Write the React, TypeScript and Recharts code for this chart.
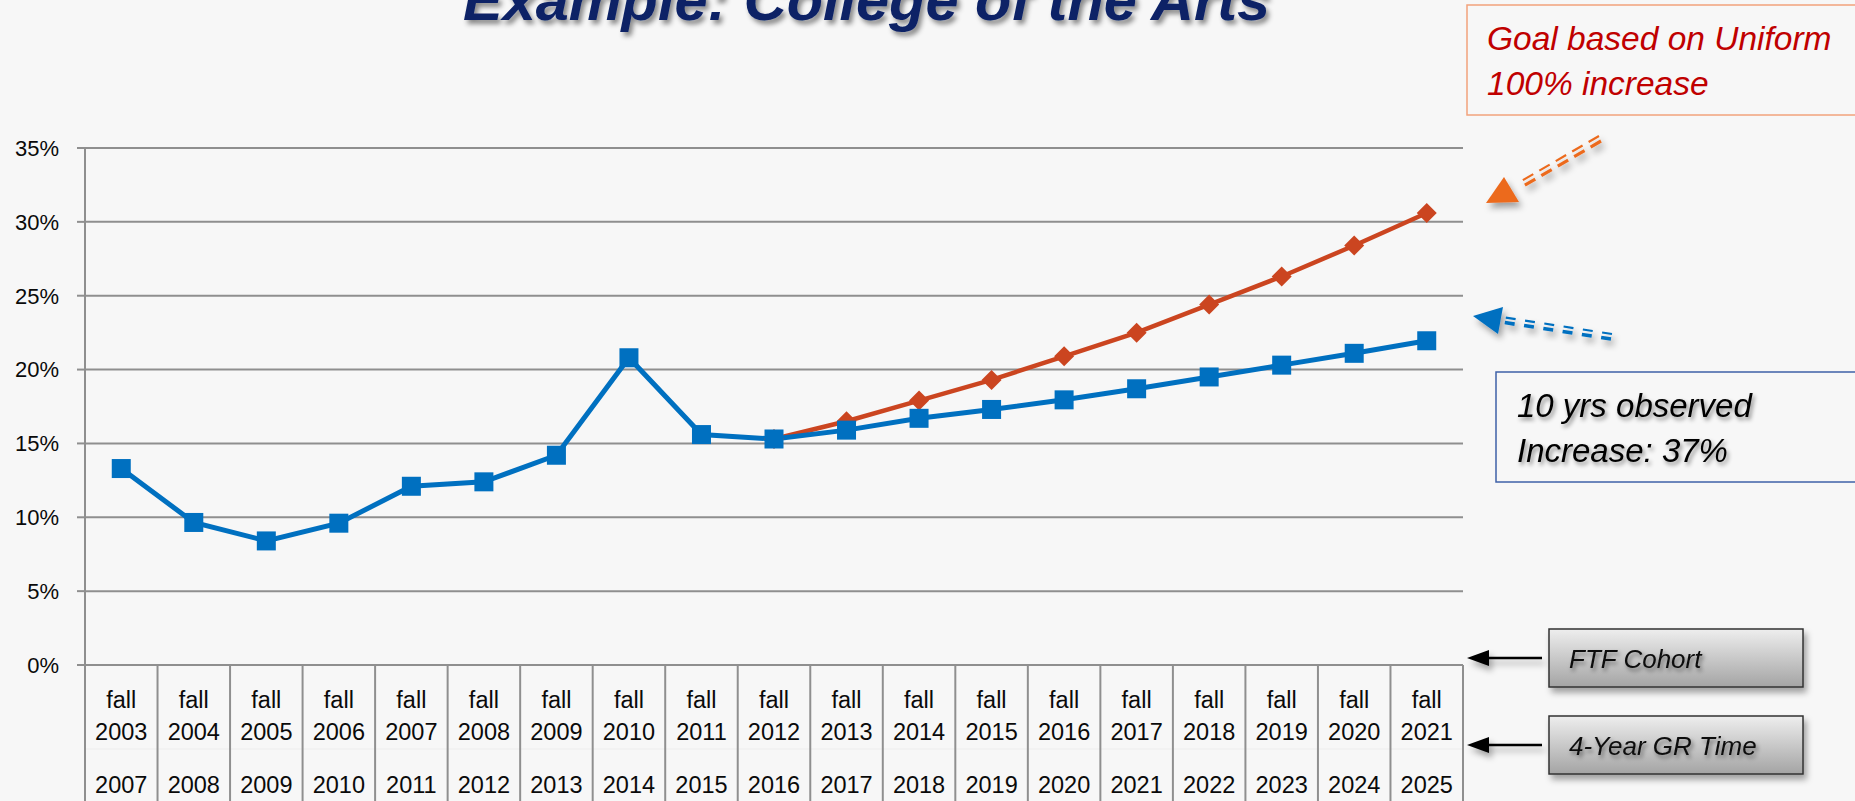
import React from 'react';
import { LineChart, Line, XAxis, YAxis, CartesianGrid } from 'recharts';

// ---- Data ----
const cohortYears = ['2003', '2004', '2005', '2006', '2007', '2008', '2009', '2010', '2011', '2012', '2013', '2014', '2015', '2016', '2017', '2018', '2019', '2020', '2021'];
const gradYears = ['2007', '2008', '2009', '2010', '2011', '2012', '2013', '2014', '2015', '2016', '2017', '2018', '2019', '2020', '2021', '2022', '2023', '2024', '2025'];
const observedRate = [13.3, 9.65, 8.4, 9.6, 12.1, 12.4, 14.2, 20.8, 15.6, 15.3, 15.9, 16.7, 17.3, 17.95, 18.7, 19.5, 20.3, 21.1, 21.95];
const goalRate: (number | null)[] = [null, null, null, null, null, null, null, null, null, 15.3, 16.5, 17.9, 19.3, 20.9, 22.5, 24.4, 26.3, 28.4, 30.6];
const yTicks = [0, 5, 10, 15, 20, 25, 30, 35];

const data = cohortYears.map((c, i) => ({
  cohort: c,
  grad: gradYears[i],
  observed: observedRate[i],
  goal: goalRate[i],
}));

// ---- Layout / style ----
const W = 1855;
const H = 801;
const PLOT_LEFT = 85;
const PLOT_RIGHT = 1463;
const PLOT_TOP = 148;
const PLOT_BOTTOM = 665;
const BAND = (PLOT_RIGHT - PLOT_LEFT) / cohortYears.length;
const GRID = '#8F8F8F';
const BG = '#F7F7F7';
const BLUE = '#0070C0';
const RED = '#CB4520';
const FONT = '"Liberation Sans", Arial, sans-serif';

const XTick = (props: any) => {
  const { x, y, payload } = props;
  const i = cohortYears.indexOf(String(payload.value));
  const half = BAND / 2;
  const last = i === cohortYears.length - 1;
  const ts = { fontFamily: FONT, fontSize: 23.5, fill: '#0A0A0A' };
  return (
    <g>
      <line x1={x - half} x2={x + half} y1={y + 84} y2={y + 84} stroke="#EDEDED" strokeWidth={1} />
      <line x1={x - half} x2={x - half} y1={y} y2={H} stroke={GRID} strokeWidth={2} />
      {last && <line x1={x + half} x2={x + half} y1={y} y2={H} stroke={GRID} strokeWidth={2} />}
      <text x={x} y={y + 43} textAnchor="middle" {...ts}>fall</text>
      <text x={x} y={y + 75} textAnchor="middle" {...ts}>{payload.value}</text>
      <text x={x} y={y + 128} textAnchor="middle" {...ts}>{gradYears[i]}</text>
    </g>
  );
};

const SquareDot = (p: any) => {
  if (p.cx == null || p.cy == null || p.value == null) return <g key={p.key} />;
  return <rect key={p.key} x={p.cx - 9.5} y={p.cy - 9.5} width={19} height={19} fill={BLUE} />;
};

const DiamondDot = (p: any) => {
  if (p.cx == null || p.cy == null || p.value == null) return <g key={p.key} />;
  const r = 10;
  const pts = `${p.cx},${p.cy - r} ${p.cx + r},${p.cy} ${p.cx},${p.cy + r} ${p.cx - r},${p.cy}`;
  return <polygon key={p.key} points={pts} fill={RED} />;
};

const Overlay = () => (
  <svg width={W} height={H} style={{ position: 'absolute', left: 0, top: 0, pointerEvents: 'none' }}>
    <defs>
      <filter id="shadow" x="-20%" y="-20%" width="150%" height="160%">
        <feDropShadow dx="3" dy="5" stdDeviation="3" floodColor="#000" floodOpacity="0.35" />
      </filter>
      <filter id="textShadow" x="-10%" y="-30%" width="130%" height="170%">
        <feDropShadow dx="2" dy="3" stdDeviation="2" floodColor="#000" floodOpacity="0.45" />
      </filter>
      <filter id="titleShadow" x="-10%" y="-30%" width="130%" height="170%">
        <feDropShadow dx="3" dy="4" stdDeviation="2.5" floodColor="#000" floodOpacity="0.45" />
      </filter>
      <linearGradient id="boxGrad" x1="0" y1="0" x2="0" y2="1">
        <stop offset="0" stopColor="#EEEEEE" />
        <stop offset="1" stopColor="#A4A4A4" />
      </linearGradient>
    </defs>

    {/* Title (its top is cut off at the page edge, as in the original slide) */}
    <text x={463} y={20} fontFamily={FONT} fontSize={58} fontWeight="bold" fontStyle="italic" fill="#0E2466"
      textLength={807} lengthAdjust="spacingAndGlyphs" filter="url(#titleShadow)">Example: College of the Arts</text>

    {/* Goal box */}
    <rect x={1467} y={5} width={420} height={110} fill={BG} stroke="#F2A37C" strokeWidth={1.5} />
    <text x={1487} y={50} fontFamily={FONT} fontSize={33.5} fontStyle="italic" fill="#C00000">Goal based on Uniform</text>
    <text x={1487} y={95} fontFamily={FONT} fontSize={33.5} fontStyle="italic" fill="#C00000">100% increase</text>

    {/* Orange dashed arrow */}
    <g filter="url(#shadow)">
      <line x1={1599} y1={136} x2={1518} y2={183} stroke="#EC6A1E" strokeWidth={2.2} strokeDasharray="12 7" />
      <line x1={1601} y1={141} x2={1520} y2={188} stroke="#EC6A1E" strokeWidth={3.2} strokeDasharray="12 7" />
      <polygon points="1486,203 1504,177 1519,202" fill="#EC6A1E" />
    </g>

    {/* Blue dashed arrow */}
    <g filter="url(#shadow)">
      <line x1={1612} y1={334} x2={1502} y2={317} stroke={BLUE} strokeWidth={2.2} strokeDasharray="10 9.5" />
      <line x1={1611} y1={339} x2={1501} y2={322} stroke={BLUE} strokeWidth={3.6} strokeDasharray="10 9.5" />
      <polygon points="1473,316 1503,307 1498,334" fill={BLUE} />
    </g>

    {/* Observed box */}
    <rect x={1496} y={372} width={420} height={110} fill={BG} stroke="#3F62A8" strokeWidth={1.5} />
    <g filter="url(#textShadow)">
      <text x={1517} y={417} fontFamily={FONT} fontSize={33} fontStyle="italic" fill="#000">10 yrs observed</text>
      <text x={1517} y={462} fontFamily={FONT} fontSize={33} fontStyle="italic" fill="#000">Increase: 37%</text>
    </g>

    {/* FTF Cohort */}
    <g filter="url(#shadow)">
      <line x1={1542} y1={658} x2={1484} y2={658} stroke="#000" strokeWidth={2.5} />
      <polygon points="1467,658 1489,650 1489,666" fill="#000" />
      <rect x={1549} y={629} width={254} height={58} fill="url(#boxGrad)" stroke="#333" strokeWidth={1.5} />
    </g>
    <text x={1569} y={668} fontFamily={FONT} fontSize={26} fontStyle="italic" fill="#111" filter="url(#textShadow)">FTF Cohort</text>

    {/* 4-Year GR Time */}
    <g filter="url(#shadow)">
      <line x1={1542} y1={745} x2={1484} y2={745} stroke="#000" strokeWidth={2.5} />
      <polygon points="1467,745 1489,737 1489,753" fill="#000" />
      <rect x={1549} y={716} width={254} height={58} fill="url(#boxGrad)" stroke="#333" strokeWidth={1.5} />
    </g>
    <text x={1569} y={755} fontFamily={FONT} fontSize={26} fontStyle="italic" fill="#111" filter="url(#textShadow)">4-Year GR Time</text>
  </svg>
);

export default function App() {
  return (
    <div style={{ position: 'absolute', left: 0, top: 0, width: W, height: H, background: BG, overflow: 'hidden' }}>
      <LineChart
        width={W}
        height={H}
        data={data}
        margin={{ top: PLOT_TOP, right: W - PLOT_RIGHT, bottom: 0, left: 0 }}
      >
        <CartesianGrid vertical={false} stroke={GRID} strokeWidth={2} />
        <XAxis
          dataKey="cohort"
          interval={0}
          height={H - PLOT_BOTTOM}
          tickSize={0}
          tickMargin={0}
          tickLine={false}
          axisLine={{ stroke: GRID, strokeWidth: 2 }}
          padding={{ left: BAND / 2, right: BAND / 2 }}
          tick={<XTick />}
        />
        <YAxis
          width={PLOT_LEFT}
          domain={[0, 35]}
          ticks={yTicks}
          interval={0}
          tickSize={8}
          tickMargin={18}
          tickFormatter={(v: number) => `${v}%`}
          tick={{ fontFamily: FONT, fontSize: 22, fill: '#0A0A0A' }}
          tickLine={{ stroke: GRID, strokeWidth: 2 }}
          axisLine={{ stroke: GRID, strokeWidth: 2 }}
        />
        <Line
          type="linear"
          dataKey="goal"
          stroke={RED}
          strokeWidth={4.5}
          dot={DiamondDot}
          activeDot={false}
          connectNulls={false}
          isAnimationActive={false}
        />
        <Line
          type="linear"
          dataKey="observed"
          stroke={BLUE}
          strokeWidth={5}
          dot={SquareDot}
          activeDot={false}
          isAnimationActive={false}
        />
      </LineChart>
      <Overlay />
    </div>
  );
}
